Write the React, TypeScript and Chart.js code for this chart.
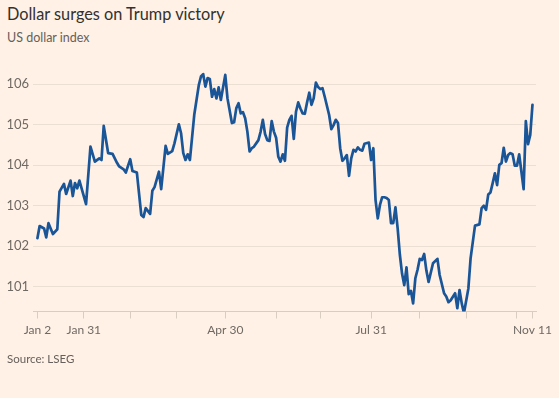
import React, { useEffect, useRef } from "react";
import { Chart, registerables } from "chart.js";

Chart.register(...registerables);

// Trading-day index (weekdays from Jan 2, 2024) and US dollar index values
const dayIndex = [
  0, 1, 3, 4, 5, 7, 9, 10, 12, 13, 15, 16, 17, 18, 19, 22, 24, 26, 28, 29,
  30, 32, 34, 36, 37, 39, 40, 42, 43, 45, 47, 48, 49, 51, 52, 53, 55, 56, 58, 59,
  61, 62, 64, 65, 66, 67, 68, 69, 71, 73, 74, 75, 76, 77, 78, 79, 80, 81, 82, 83,
  85, 86, 88, 89, 90, 91, 92, 93, 94, 95, 96, 97, 98, 100, 101, 102, 103, 104, 105, 106,
  107, 108, 109, 110, 111, 112, 113, 114, 115, 116, 117, 118, 119, 120, 121, 122, 123, 124, 125, 126,
  127, 128, 129, 130, 132, 133, 134, 135, 136, 137, 138, 139, 140, 141, 142, 143, 144, 145, 146, 147,
  148, 150, 151, 152, 153, 154, 155, 156, 157, 158, 159, 160, 161, 162, 163, 164, 165, 166, 167, 168,
  169, 170, 171, 172, 173, 174, 175, 176, 177, 179, 181, 182, 184, 185, 186, 187, 189, 190, 191, 192,
  193, 195, 196, 198, 200, 201, 202, 203, 204, 205, 206, 207, 208, 209, 210, 211, 212, 213, 214, 215,
  216, 217, 218, 219, 220, 221, 222, 223, 224,
];

const dollarIndex = [
  102.2, 102.5, 102.44, 102.22, 102.57, 102.3, 102.42, 103.35, 103.54, 103.29, 103.62, 103.24, 103.56, 103.43, 103.62, 103.04, 104.46, 104.09, 104.17, 104.13,
  104.97, 104.3, 104.28, 104.06, 103.97, 103.9, 103.82, 104.15, 103.86, 103.82, 102.77, 102.72, 102.94, 102.8, 103.37, 103.46, 103.84, 103.41, 104.48, 104.28,
  104.35, 104.54, 105.01, 104.79, 104.3, 104.13, 104.27, 104.13, 105.26, 105.97, 106.19, 106.25, 105.94, 106.15, 106.13, 105.69, 105.88, 105.65, 105.92, 105.61,
  106.23, 105.65, 105.04, 105.06, 105.41, 105.53, 105.28, 105.31, 105.16, 104.83, 104.34, 104.42, 104.46, 104.62, 104.83, 105.12, 104.77, 104.62, 104.6, 105.09,
  104.83, 104.68, 104.21, 104.09, 104.27, 104.11, 104.93, 105.12, 105.22, 104.65, 105.32, 105.55, 105.4, 105.28, 105.27, 105.55, 105.79, 105.49, 105.65, 106.04,
  105.93, 105.88, 105.9, 105.69, 105.24, 104.89, 104.99, 105.12, 105.04, 104.42, 104.11, 104.17, 104.25, 103.74, 104.17, 104.38, 104.34, 104.44, 104.38, 104.36,
  104.53, 104.56, 104.13, 104.42, 103.14, 102.69, 103.02, 103.21, 103.21, 103.19, 103.14, 102.57, 102.57, 102.96, 102.44, 101.79, 101.32, 101.04, 101.48, 100.82,
  100.9, 100.59, 101.21, 101.42, 101.69, 101.66, 101.81, 101.4, 101.12, 101.58, 101.69, 101.29, 100.84, 100.76, 100.62, 100.67, 100.84, 100.47, 100.92, 100.59,
  100.35, 100.96, 101.7, 102.51, 102.54, 102.94, 103.0, 102.9, 103.28, 103.33, 103.56, 103.8, 103.51, 104.01, 104.05, 104.43, 104.09, 104.25, 104.3, 104.27,
  103.99, 103.99, 104.27, 103.84, 103.41, 105.09, 104.52, 104.75, 105.49,
];

// x-axis ticks (trading-day index) and their labels
const xTickPositions = [0, 21, 42, 63, 85, 108, 128, 151, 173, 194, 217, 224];
const xTickLabels = ["Jan 2", "Jan 31", "", "", "Apr 30", "", "", "Jul 31", "", "", "", "Nov 11"];
const yTickValues = [101, 102, 103, 104, 105, 106];

const FONT = "Lato, 'Open Sans', sans-serif";

export default function App() {
  const canvasRef = useRef<HTMLCanvasElement | null>(null);

  useEffect(() => {
    document.body.style.margin = "0";
    document.body.style.background = "#FFF1E5";
    const canvas = canvasRef.current;
    if (!canvas) return;
    const points = dayIndex.map((d, i) => ({ x: d, y: dollarIndex[i] }));
    const chart = new Chart(canvas, {
      type: "line",
      data: {
        datasets: [
          {
            data: points,
            borderColor: "#1a5598",
            borderWidth: 2.7,
            pointRadius: 0,
            tension: 0,
            borderJoinStyle: "round",
            borderCapStyle: "round",
          },
        ],
      },
      options: {
        animation: false,
        responsive: false,
        maintainAspectRatio: false,
        layout: { padding: { top: 68, right: 23, bottom: 56.5, left: 0 } },
        plugins: { legend: { display: false }, tooltip: { enabled: false } },
        scales: {
          x: {
            type: "linear",
            min: -2,
            max: 225.6,
            afterBuildTicks: (scale: any) => {
              scale.ticks = xTickPositions.map((v) => ({ value: v }));
            },
            afterFit: (scale: any) => {
              scale.height = 30;
            },
            grid: {
              drawOnChartArea: false,
              drawTicks: true,
              tickLength: 7,
              color: "#d9cdc2",
            },
            border: { display: true, color: "#d9cdc2" },
            ticks: {
              autoSkip: false,
              maxRotation: 0,
              padding: 4,
              color: "#6f6964",
              font: { family: FONT, size: 12 },
              callback: (v: any) => {
                const i = xTickPositions.indexOf(Number(v));
                return i >= 0 ? xTickLabels[i] : "";
              },
            },
          },
          y: {
            min: 100.39,
            max: 106.4,
            afterBuildTicks: (scale: any) => {
              scale.ticks = yTickValues.map((v) => ({ value: v }));
            },
            afterFit: (scale: any) => {
              scale.width = 33;
            },
            grid: { color: "#ebdfd4", drawTicks: false, lineWidth: 1 },
            border: { display: false },
            ticks: {
              padding: 4,
              color: "#6f6964",
              font: { family: FONT, size: 13 },
              callback: (v: any) => String(v),
            },
          },
        },
      },
    });
    return () => chart.destroy();
  }, []);

  return (
    <div
      style={{
        position: "relative",
        width: 559,
        height: 398,
        background: "#FFF1E5",
        overflow: "hidden",
        fontFamily: FONT,
      }}
    >
      <div
        style={{
          position: "absolute",
          left: 7,
          top: 4,
          fontSize: 16.3,
          lineHeight: "20px",
          color: "#33302E",
          whiteSpace: "nowrap",
        }}
      >
        Dollar surges on Trump victory
      </div>
      <div
        style={{
          position: "absolute",
          left: 7,
          top: 30,
          fontSize: 12.5,
          lineHeight: "16px",
          color: "#66605C",
          whiteSpace: "nowrap",
        }}
      >
        US dollar index
      </div>
      <canvas
        ref={canvasRef}
        width={559}
        height={398}
        style={{ position: "absolute", left: 0, top: 0, width: 559, height: 398 }}
      />
      <div
        style={{
          position: "absolute",
          left: 7,
          top: 351,
          fontSize: 11.5,
          lineHeight: "15px",
          color: "#66605C",
          whiteSpace: "nowrap",
        }}
      >
        Source: LSEG
      </div>
    </div>
  );
}
